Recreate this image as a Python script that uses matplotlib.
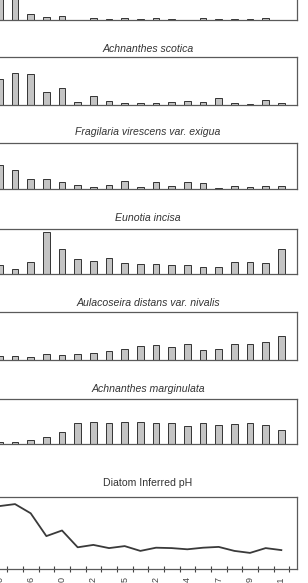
import matplotlib
matplotlib.use('Agg')
from matplotlib import pyplot as plt

plt.rcParams['font.family'] = ['Liberation Sans', 'DejaVu Sans']

# sample positions (only the visible part of the original figure)
samples = list(range(19))
sample_labels = ['1990', '', '1996', '', '2010', '', '2032', '', '1875', '',
                 '2012', '', '2014', '', '2017', '', '2009', '', '2011']

# percent abundances
top_taxon = [37, 42, 6.4, 3.5, 4.6, 0, 2.1, 1.1, 2.4, 1.1, 2.4, 1.1, 0, 2.4, 1.1, 1.1, 1.1, 2.4, 0]
achnanthes_scotica = [27, 34, 32.5, 14, 18, 3.1, 9.8, 4.5, 2.1, 2.1, 2, 2.8, 4.2, 2.8, 7, 1.8, 1.1, 5.2, 2.1]
fragilaria_exigua = [26, 20.7, 11, 11, 7.8, 5, 2.9, 5, 8.9, 2.9, 7.8, 3.5, 7.8, 6.8, 1.4, 3.5, 2.5, 3.5, 3.5]
eunotia_incisa = [10.3, 6.3, 13.6, 47, 28.4, 16.9, 14.4, 18, 12.1, 11, 11, 9.9, 9.9, 7.7, 7.7, 14, 13.3, 12.1, 27.6]
aulacoseira_nivalis = [4.5, 4.5, 2.8, 6, 4.9, 6, 7, 9.7, 11.8, 14.7, 15.7, 13.6, 16.5, 10.5, 11.8, 16.8, 16.8, 18.9, 24.8]
achnanthes_marginulata = [2.2, 2.5, 4.7, 8.1, 13.2, 23.2, 24.3, 23.2, 24.3, 25, 23.2, 23.2, 20.2, 24, 21.3, 22, 24, 21.7, 15.8]
diatom_ph = [6.18, 6.23, 6.0, 5.43, 5.57, 5.15, 5.21, 5.13, 5.18, 5.06, 5.14, 5.13, 5.10, 5.14, 5.16, 5.06, 5.01, 5.13, 5.08]

panels = [
    ('', top_taxon),
    ('Achnanthes scotica', achnanthes_scotica),
    ('Fragilaria virescens var. exigua', fragilaria_exigua),
    ('Eunotia incisa', eunotia_incisa),
    ('Aulacoseira distans var. nivalis', aulacoseira_nivalis),
    ('Achnanthes marginulata', achnanthes_marginulata),
]

W, H = 308, 583
fig = plt.figure(figsize=(W / 100, H / 100), dpi=100)

# pixel boxes (top, bottom) for each panel, title centre y
boxes = [(-27, 20, None), (57.3, 105, 49), (142.7, 189.3, 132.3), (229, 274.3, 218.5),
         (312.3, 360, 303.5), (399, 444.3, 388.5)]
left_px, right_px = -16.3, 297
edge = '#5a5a5a'


def make_axes(top, bottom):
    return fig.add_axes([left_px / W, 1 - bottom / H, (right_px - left_px) / W, (bottom - top) / H])


for (name, vals), (top, bottom, ty) in zip(panels, boxes):
    ax = make_axes(top, bottom)
    ax.bar(samples, vals, width=0.43, color='#c4c4c4', edgecolor='#333333', linewidth=0.7)
    ax.set_xlim(-1, 19)
    ax.set_ylim(0, 50)
    ax.set_xticks([])
    ax.set_yticks([])
    for s in ax.spines.values():
        s.set_color(edge)
        s.set_linewidth(0.9)
    if ty is not None:
        fig.text(148 / W, 1 - ty / H, name, style='italic', fontsize=7.6,
                 color='#333333', ha='center', va='center')

# pH panel
ax = make_axes(497.3, 569.3)
ax.plot(samples, diatom_ph, color='#3a3a3a', linewidth=1.3)
ax.set_xlim(-1, 19)
ax.set_ylim(4.6, 6.4)
ax.set_yticks([])
ax.set_xticks([i + 0.5 for i in range(-1, 19)], minor=False)
ax.set_xticklabels([])
ax.set_xticks(samples, minor=True)
ax.set_xticklabels(sample_labels, minor=True, rotation=90, fontsize=6.5, color='#444444')
ax.tick_params(axis='x', which='major', direction='inout', length=4.5, width=0.8, color='#444444')
ax.tick_params(axis='x', which='minor', length=0, pad=5)
for s in ax.spines.values():
    s.set_color(edge)
    s.set_linewidth(0.9)
fig.text(148 / W, 1 - 483.5 / H, 'Diatom Inferred pH', fontsize=7.6, color='#333333',
         ha='center', va='center')

plt.savefig('out.png', dpi=100)
